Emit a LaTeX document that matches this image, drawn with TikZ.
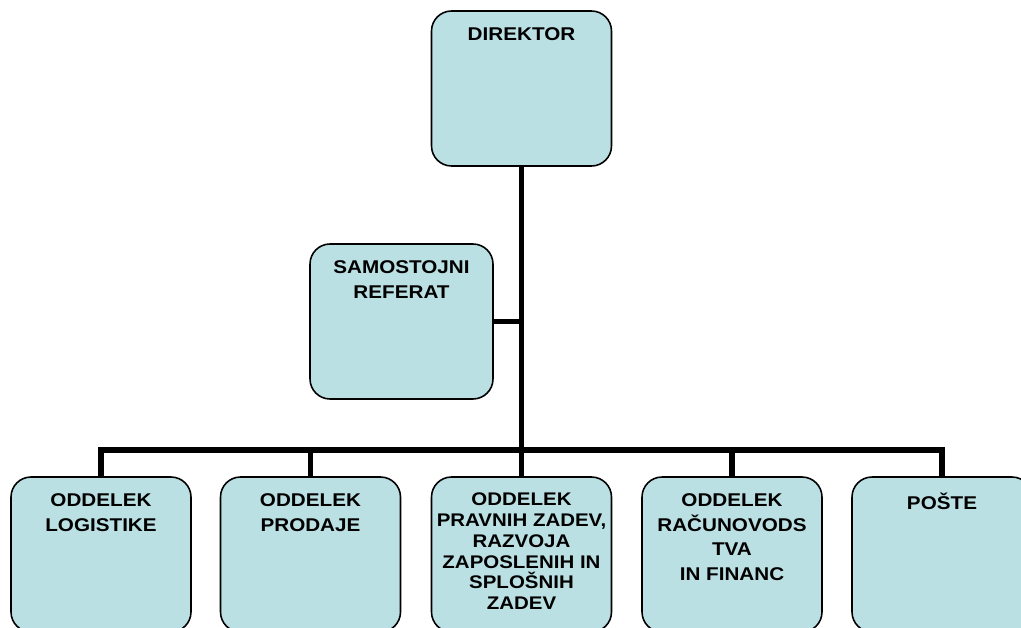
\documentclass[tikz,border=0pt]{standalone}
\usepackage{fontspec}
\setmainfont{Liberation Sans}[FakeStretch=1.12]
\definecolor{boxblue}{RGB}{187,224,227}

\begin{document}
\begin{tikzpicture}[x=0.02cm, y=-0.02cm,
  box/.style={draw=black, line width=0.9pt, fill=boxblue, rounded corners=0.4cm,
    minimum width=3.6cm, minimum height=3.1cm, outer sep=0pt},
  txt/.style={anchor=north, yshift=-9pt, inner sep=0pt, align=center,
    font=\bfseries\fontsize{10.5}{14.2}\selectfont},
  txtsmall/.style={txt, font=\bfseries\fontsize{10.4}{11.8}\selectfont},
  conn/.style={line width=3.4pt}]
\clip (0,0) rectangle (1021,628);

% upper boxes
\node[box, label={[txt]north:DIREKTOR}] (dir) at (521.5,88.5) {};
\node[box, minimum width=3.66cm, label={[txt]north:{SAMOSTOJNI\\REFERAT}}] (samo) at (401.5,321.5) {};

% departments
\node[box, label={[txt]north:{ODDELEK\\LOGISTIKE}}] (log) at (101,554.5) {};
\node[box, label={[txt]north:{ODDELEK\\PRODAJE}}] (prod) at (310.5,554.5) {};
\node[box, label={[txtsmall]north:{ODDELEK\\PRAVNIH ZADEV,\\RAZVOJA\\ZAPOSLENIH IN\\SPLOŠNIH\\ZADEV}}] (prav) at (521.5,554.5) {};
\node[box, label={[txt]north:{ODDELEK\\RAČUNOVODS\\TVA\\IN FINANC}}] (fin) at (732,554.5) {};
\node[box, label={[txt]north:POŠTE}] (poste) at (942,554.5) {};

% lines
\coordinate (bus) at (521.5,450);
\draw[conn] (dir.south) -- (prav.north);
\draw[conn] (samo.east) -- (samo.east -| dir.south);
\draw[conn] (log.north) |- (bus) -| (poste.north);
\draw[conn] (prod.north) -- (prod.north |- bus);
\draw[conn] (fin.north) -- (fin.north |- bus);
\end{tikzpicture}
\end{document}
